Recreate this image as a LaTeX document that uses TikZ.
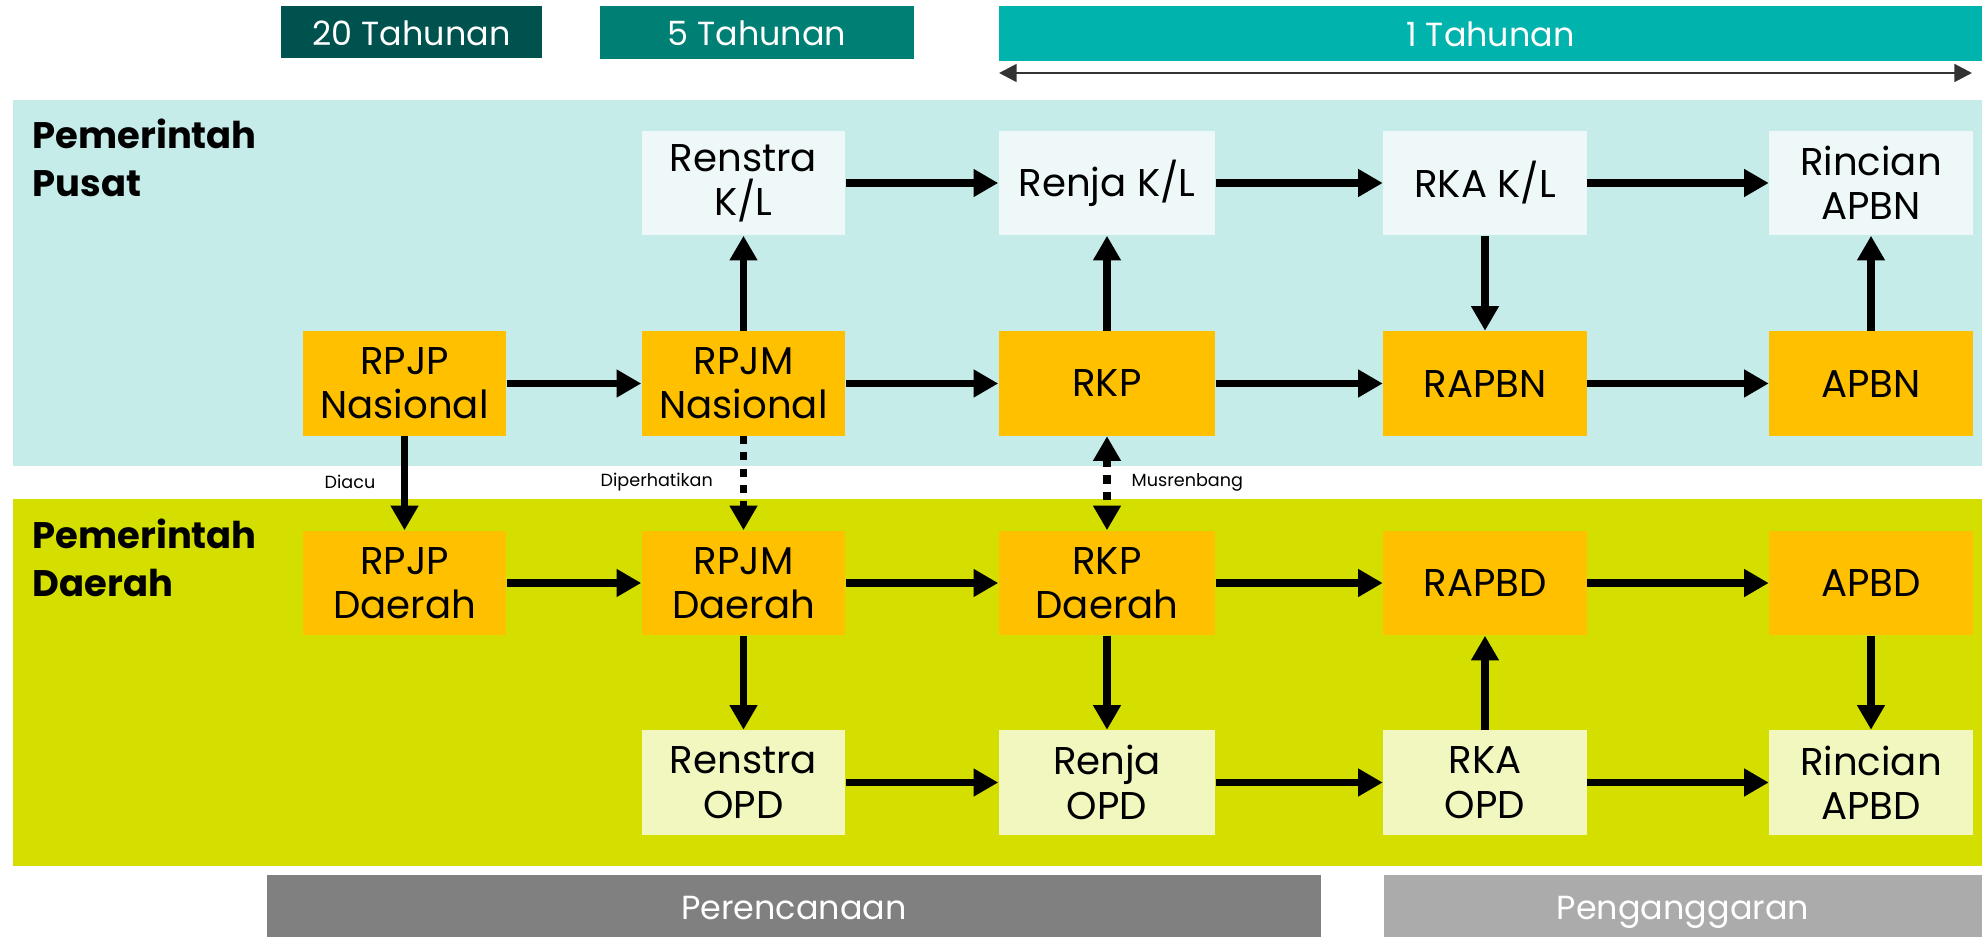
\documentclass[tikz,border=0pt]{standalone}
\usepackage{fontspec}
\setmainfont{Poppins}
\usetikzlibrary{arrows.meta,positioning}
\definecolor{tahunA}{RGB}{0,82,79}
\definecolor{tahunB}{RGB}{0,128,117}
\definecolor{tahunC}{RGB}{0,179,173}
\definecolor{pusatband}{RGB}{197,236,233}
\definecolor{daerahband}{RGB}{212,223,0}
\definecolor{planorange}{RGB}{255,192,0}
\definecolor{pusatlight}{RGB}{238,248,248}
\definecolor{daerahlight}{RGB}{242,247,191}
\definecolor{rencanagray}{RGB}{128,128,128}
\definecolor{anggarangray}{RGB}{171,171,171}
\tikzset{
  docbox/.style={fill=planorange, minimum height=1.04cm, minimum width=2.03cm,
    align=center, inner sep=2pt, font=\fontsize{11}{12.6}\selectfont},
  widebox/.style={minimum width=2.16cm},
  pusatdoc/.style={docbox, fill=pusatlight},
  daerahdoc/.style={docbox, fill=daerahlight},
  periodbar/.style={inner sep=0pt, text=white, text height=8.5pt, text depth=1pt,
    font=\fontsize{9.5}{11}\selectfont},
  levellabel/.style={anchor=north west, align=left, inner sep=0pt,
    font=\fontsize{10.5}{13.7}\selectfont\bfseries},
  flow/.style={-{Triangle[length=7pt,width=7.5pt]}, line width=2.2pt},
  dotflow/.style={flow, dash pattern=on 2.3pt off 2.3pt},
  note/.style={anchor=west, inner sep=0pt, font=\fontsize{5}{6}\selectfont}
}

\begin{document}
\begin{tikzpicture}[x=0.01cm, y=-0.01cm]
  \useasboundingbox (0,0) rectangle (1982,937);
  \fill[pusatband] (13,100) rectangle (1982,466);
  \fill[daerahband] (13,499) rectangle (1982,866);

  % periode
  \node[periodbar, fill=tahunA, minimum width=2.61cm, minimum height=0.52cm] (th20) at (411.5,32) {20 Tahunan};
  \node[periodbar, fill=tahunB, minimum width=3.14cm, minimum height=0.53cm] (th5) at (757,32.5) {5 Tahunan};
  \node[periodbar, fill=tahunC, minimum width=9.83cm, minimum height=0.55cm] (th1) at (1490.5,33.5) {1 Tahunan};
  \coordinate (spanL) at (999,73);
  \coordinate (spanR) at (1972,73);
  \draw[{Triangle[length=5pt,width=5pt]}-{Triangle[length=5pt,width=5pt]}, line width=0.8pt, draw=black!80] (spanL) -- (spanR);

  \node[levellabel] (pusat) at (32,118) {Pemerintah\\Pusat};
  \node[levellabel] (daerah) at (32,518) {Pemerintah\\Daerah};

  % pemerintah pusat
  \node[pusatdoc] (renstraKL) at (743.5,183) {Renstra\\K/L};
  \node[pusatdoc, widebox] (renjaKL) at (1107,183) {Renja K/L};
  \node[pusatdoc] (rkaKL) at (1485,183) {RKA K/L};
  \node[pusatdoc] (rincianAPBN) at (1871,183) {Rincian\\APBN};
  \node[docbox] (rpjpNas) at (404.5,383.5) {RPJP\\Nasional};
  \node[docbox] (rpjmNas) at (743.5,383.5) {RPJM\\Nasional};
  \node[docbox, widebox] (rkp) at (1107,383.5) {RKP};
  \node[docbox] (rapbn) at (1485,383.5) {RAPBN};
  \node[docbox] (apbn) at (1871,383.5) {APBN};

  % pemerintah daerah
  \node[docbox] (rpjpDae) at (404.5,583) {RPJP\\Daerah};
  \node[docbox] (rpjmDae) at (743.5,583) {RPJM\\Daerah};
  \node[docbox, widebox] (rkpDae) at (1107,583) {RKP\\Daerah};
  \node[docbox] (rapbd) at (1485,583) {RAPBD};
  \node[docbox] (apbd) at (1871,583) {APBD};
  \node[daerahdoc] (renstraOPD) at (743.5,782.5) {Renstra\\OPD};
  \node[daerahdoc, widebox] (renjaOPD) at (1107,782.5) {Renja\\OPD};
  \node[daerahdoc] (rkaOPD) at (1485,782.5) {RKA\\OPD};
  \node[daerahdoc] (rincianAPBD) at (1871,782.5) {Rincian\\APBD};

  \draw[flow] (renstraKL) -- (renjaKL);
  \draw[flow] (renjaKL) -- (rkaKL);
  \draw[flow] (rkaKL) -- (rincianAPBN);
  \draw[flow] (rpjpNas) -- (rpjmNas);
  \draw[flow] (rpjmNas) -- (rkp);
  \draw[flow] (rkp) -- (rapbn);
  \draw[flow] (rapbn) -- (apbn);
  \draw[flow] (rpjmNas) -- (renstraKL);
  \draw[flow] (rkp) -- (renjaKL);
  \draw[flow] (rkaKL) -- (rapbn);
  \draw[flow] (apbn) -- (rincianAPBN);

  \draw[flow] (rpjpNas) -- (rpjpDae);
  \draw[dotflow] (rpjmNas) -- (rpjmDae);
  \draw[dotflow, {Triangle[length=7pt,width=7.5pt]}-{Triangle[length=7pt,width=7.5pt]}] (rkp) -- (rkpDae);
  \node[note] (diacu) at (324,482) {Diacu};
  \node[note] (diperhatikan) at (600,482) {Diperhatikan};
  \node[note] (musrenbang) at (1131,482) {Musrenbang};

  \draw[flow] (rpjpDae) -- (rpjmDae);
  \draw[flow] (rpjmDae) -- (rkpDae);
  \draw[flow] (rkpDae) -- (rapbd);
  \draw[flow] (rapbd) -- (apbd);
  \draw[flow] (rpjmDae) -- (renstraOPD);
  \draw[flow] (rkpDae) -- (renjaOPD);
  \draw[flow] (rkaOPD) -- (rapbd);
  \draw[flow] (apbd) -- (rincianAPBD);
  \draw[flow] (renstraOPD) -- (renjaOPD);
  \draw[flow] (renjaOPD) -- (rkaOPD);
  \draw[flow] (rkaOPD) -- (rincianAPBD);

  % tahap
  \node[periodbar, fill=rencanagray, minimum width=10.54cm, minimum height=0.62cm] (perencanaan) at (794,906) {Perencanaan};
  \node[periodbar, fill=anggarangray, minimum width=5.98cm, minimum height=0.62cm] (penganggaran) at (1683,906) {Penganggaran};
\end{tikzpicture}
\end{document}
